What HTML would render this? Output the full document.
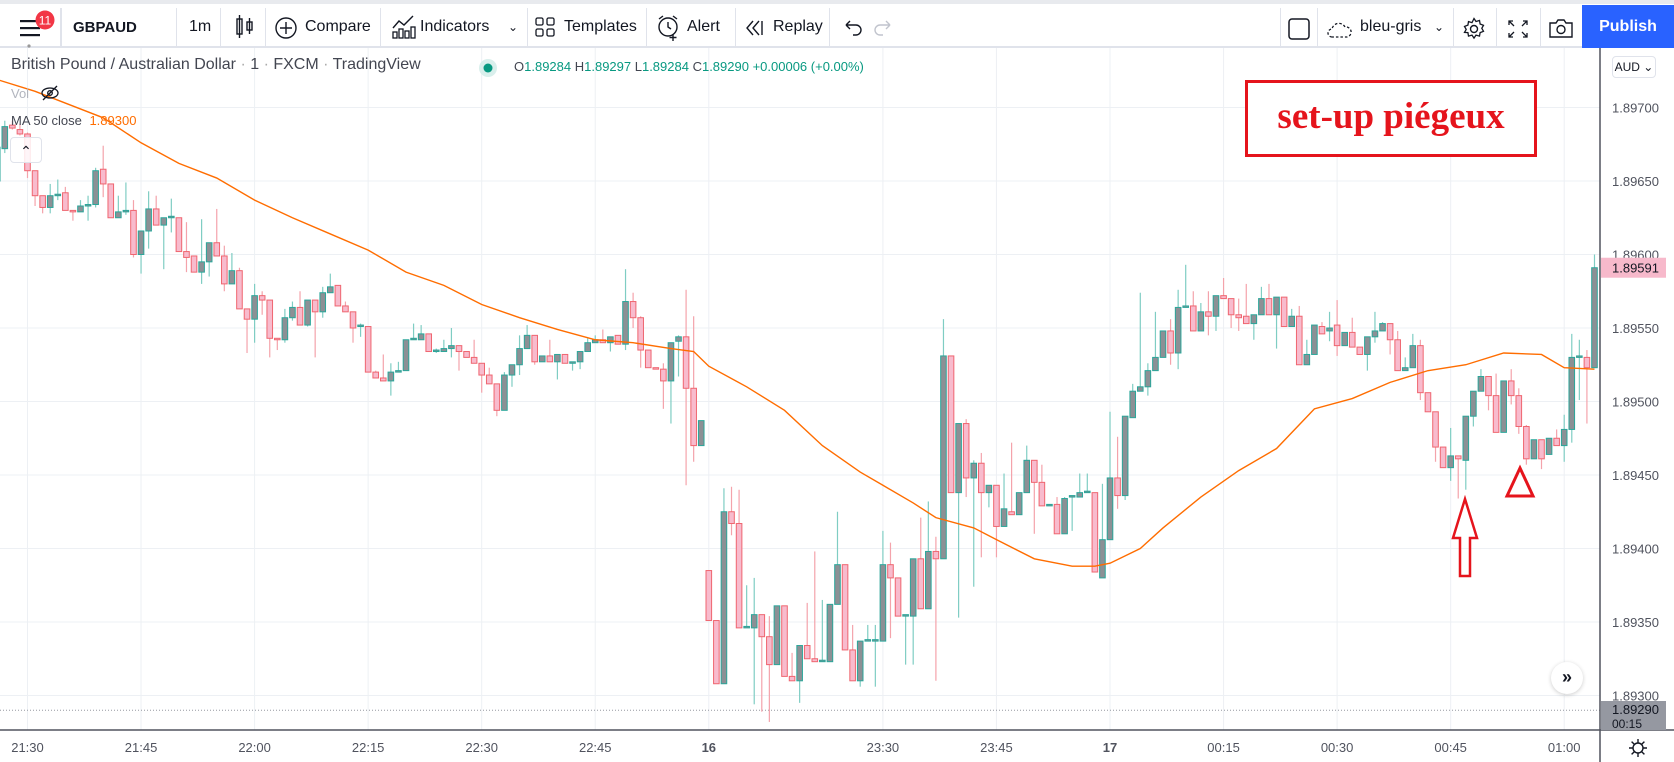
<!DOCTYPE html>
<html><head><meta charset="utf-8">
<style>
html,body{margin:0;padding:0;background:#fff;}
body{width:1674px;height:762px;overflow:hidden;position:relative;font-family:"Liberation Sans",sans-serif;color:#131722;}
.tb{position:absolute;left:0;top:0;width:1674px;height:48px;background:#fff;border-top:4px solid #e8eaee;box-sizing:border-box;border-bottom:2px solid #e0e3eb;}
.t{position:absolute;top:14px;font-size:16px;color:#131722;white-space:nowrap;}
.sep{position:absolute;top:4px;width:1px;height:40px;background:#e0e3eb;}
.ax{position:absolute;font-size:13px;color:#50535e;}
</style></head>
<body>
<div class="tb">
  <svg style="position:absolute;left:16px;top:6px" width="44" height="38">
    <rect x="4" y="10" width="20" height="2.2" fill="#131722"/><rect x="4" y="17" width="20" height="2.2" fill="#131722"/><rect x="4" y="24" width="20" height="2.2" fill="#131722"/>
    <circle cx="13" cy="36" r="1.6" fill="#999"/>
    <circle cx="29" cy="10" r="9.5" fill="#f23645"/><text x="29" y="14.5" font-size="12" fill="#fff" text-anchor="middle" font-family="Liberation Sans">11</text>
  </svg>
  <div class="sep" style="left:60px;width:2px"></div>
  <div class="t" style="left:73px;font-weight:bold;font-size:15px;top:15px">GBPAUD</div>
  <div class="sep" style="left:176px"></div>
  <div class="t" style="left:189px">1m</div>
  <div class="sep" style="left:220px"></div>
  <svg style="position:absolute;left:234px;top:10px" width="22" height="26"><rect x="3" y="5" width="5" height="15" fill="none" stroke="#131722" stroke-width="1.4"/><line x1="5.5" y1="1" x2="5.5" y2="24" stroke="#131722" stroke-width="1.4"/><rect x="13" y="8" width="5" height="8" fill="none" stroke="#131722" stroke-width="1.4"/><line x1="15.5" y1="4" x2="15.5" y2="20" stroke="#131722" stroke-width="1.4"/></svg>
  <div class="sep" style="left:265px"></div>
  <svg style="position:absolute;left:274px;top:12px" width="24" height="24"><circle cx="12" cy="12" r="10" fill="none" stroke="#131722" stroke-width="1.4"/><path d="M12 6v12M6 12h12" stroke="#131722" stroke-width="1.4"/></svg>
  <div class="t" style="left:305px">Compare</div>
  <div class="sep" style="left:380px"></div>
  <svg style="position:absolute;left:391px;top:10px" width="26" height="26"><path d="M2 14l6-7 5 4 9-9" fill="none" stroke="#131722" stroke-width="1.4"/><rect x="2" y="18" width="4" height="6" fill="none" stroke="#131722" stroke-width="1.3"/><rect x="8" y="15" width="4" height="9" fill="none" stroke="#131722" stroke-width="1.3"/><rect x="14" y="17" width="4" height="7" fill="none" stroke="#131722" stroke-width="1.3"/><rect x="20" y="13" width="4" height="11" fill="none" stroke="#131722" stroke-width="1.3"/></svg>
  <div class="t" style="left:420px">Indicators</div>
  <div class="t" style="left:508px;font-size:12px;top:16px">&#8964;</div>
  <div class="sep" style="left:527px"></div>
  <svg style="position:absolute;left:535px;top:13px" width="22" height="22"><rect x="1" y="1" width="7" height="7" rx="1.5" fill="none" stroke="#131722" stroke-width="1.3"/><rect x="12" y="1" width="7" height="7" rx="1.5" fill="none" stroke="#131722" stroke-width="1.3"/><rect x="1" y="12" width="7" height="7" rx="1.5" fill="none" stroke="#131722" stroke-width="1.3"/><rect x="12" y="12" width="7" height="7" rx="1.5" fill="none" stroke="#131722" stroke-width="1.3"/></svg>
  <div class="t" style="left:564px">Templates</div>
  <div class="sep" style="left:646px"></div>
  <svg style="position:absolute;left:656px;top:10px" width="26" height="28"><circle cx="12" cy="13" r="9" fill="none" stroke="#131722" stroke-width="1.4"/><path d="M12 8v5l3 2M3 5l4-3M21 5l-4-3" fill="none" stroke="#131722" stroke-width="1.4"/><path d="M17 20v7M13.5 23.5h7" stroke="#131722" stroke-width="1.4"/></svg>
  <div class="t" style="left:687px">Alert</div>
  <div class="sep" style="left:735px"></div>
  <svg style="position:absolute;left:745px;top:15px" width="22" height="18"><path d="M8 2L2 9l6 7M14 2L8 9l6 7M17 2v14" fill="none" stroke="#131722" stroke-width="1.4"/></svg>
  <div class="t" style="left:773px">Replay</div>
  <div class="sep" style="left:829px"></div>
  <svg style="position:absolute;left:842px;top:14px" width="52" height="20"><path d="M4 7h10a5 5 0 010 10h-3M4 7l4-4M4 7l4 4" fill="none" stroke="#131722" stroke-width="1.4"/><path d="M48 7H38a5 5 0 000 10h3M48 7l-4-4M48 7l-4 4" fill="none" stroke="#c1c4cd" stroke-width="1.4"/></svg>
  <div class="sep" style="left:1280px"></div>
  <svg style="position:absolute;left:1287px;top:13px" width="24" height="24"><rect x="2" y="2" width="20" height="20" rx="3" fill="none" stroke="#131722" stroke-width="1.5"/></svg>
  <div class="sep" style="left:1317px"></div>
  <svg style="position:absolute;left:1326px;top:14px" width="28" height="22"><path d="M6 19a4 4 0 010-8 7 7 0 0113-2 5 5 0 012 10z" fill="none" stroke="#131722" stroke-width="1.3" stroke-dasharray="2.5 2"/></svg>
  <div class="t" style="left:1360px">bleu-gris</div>
  <div class="t" style="left:1434px;font-size:12px;top:16px">&#8964;</div>
  <div class="sep" style="left:1453px"></div>
  <svg style="position:absolute;left:1462px;top:13px" width="24" height="24"><circle cx="12" cy="12" r="3.5" fill="none" stroke="#131722" stroke-width="1.4"/><path d="M12 1.5l2 3 3.5-1 .6 3.5 3.4 1.3-1.7 3 1.7 3-3.4 1.3-.6 3.5-3.5-1-2 3-2-3-3.5 1-.6-3.5L2.5 15.4l1.7-3-1.7-3 3.4-1.3.6-3.5 3.5 1z" fill="none" stroke="#131722" stroke-width="1.3"/></svg>
  <div class="sep" style="left:1496px"></div>
  <svg style="position:absolute;left:1507px;top:15px" width="22" height="20"><path d="M2 6V2h4M2 2l5 5M20 6V2h-4M20 2l-5 5M2 14v4h4M2 18l5-5M20 14v4h-4M20 18l-5-5" fill="none" stroke="#131722" stroke-width="1.3"/></svg>
  <div class="sep" style="left:1540px"></div>
  <svg style="position:absolute;left:1548px;top:13px" width="26" height="22"><path d="M2 6h6l2-3h6l2 3h6v14H2z" fill="none" stroke="#131722" stroke-width="1.4"/><circle cx="13" cy="12.5" r="4" fill="none" stroke="#131722" stroke-width="1.4"/></svg>
  <div style="position:absolute;left:1582px;top:1px;width:92px;height:43px;background:#2962ff;color:#fff;font-size:16px;font-weight:bold;line-height:43px;text-align:center">Publish</div>
</div>

<svg id="chart" style="position:absolute;left:0;top:48px" width="1674" height="714" viewBox="0 48 1674 714"></svg>

<div style="position:absolute;left:11px;top:56px;font-size:16px;color:#434651;white-space:nowrap">British Pound / Australian Dollar <span style="color:#aaa">·</span> 1 <span style="color:#aaa">·</span> FXCM <span style="color:#aaa">·</span> TradingView</div>
<svg style="position:absolute;left:478px;top:58px" width="20" height="20"><circle cx="10" cy="10" r="9" fill="#d9efec"/><circle cx="10" cy="10" r="4.5" fill="#089981"/></svg>
<div style="position:absolute;left:514px;top:59px;font-size:13px;color:#089981;white-space:nowrap"><span style="color:#434651">O</span>1.89284 <span style="color:#434651">H</span>1.89297 <span style="color:#434651">L</span>1.89284 <span style="color:#434651">C</span>1.89290 +0.00006 (+0.00%)</div>
<div style="position:absolute;left:11px;top:86px;font-size:13px;color:#b2b5be">Vol</div>
<svg style="position:absolute;left:40px;top:84px" width="20" height="18"><ellipse cx="10" cy="9" rx="8" ry="5" fill="none" stroke="#131722" stroke-width="1.3"/><circle cx="10" cy="9" r="2.3" fill="none" stroke="#131722" stroke-width="1.3"/><line x1="3" y1="16" x2="17" y2="2" stroke="#131722" stroke-width="1.3"/></svg>
<div style="position:absolute;left:11px;top:113px;font-size:13px;color:#434651;white-space:nowrap">MA 50 close <span style="color:#ff6d00;margin-left:4px">1.89300</span></div>
<div style="position:absolute;left:10px;top:137px;width:30px;height:24px;border:1px solid #e0e3eb;border-radius:4px;background:rgba(255,255,255,.85);text-align:center;font-size:14px;line-height:26px">&#8963;</div>

<div style="position:absolute;left:1245px;top:80px;width:286px;height:71px;border:3px solid #e5141c;background:#fff;text-align:center;font-family:'Liberation Serif',serif;font-weight:bold;font-size:37px;line-height:68px;color:#e5141c">set-up piégeux</div>

<div style="position:absolute;left:1612px;top:56px;width:42px;height:20px;border:1px solid #e0e3eb;border-radius:4px;font-size:12px;line-height:20px;text-align:center;color:#131722">AUD &#8964;</div>
<div style="position:absolute;left:1551px;top:662px;width:32px;height:32px;border-radius:16px;background:#fff;box-shadow:0 1px 4px rgba(0,0,0,.2);text-align:center;line-height:30px;font-size:18px;font-weight:bold;color:#131722">»</div>
<svg style="position:absolute;left:1627px;top:737px" width="22" height="22"><circle cx="11" cy="11" r="5" fill="none" stroke="#131722" stroke-width="1.4"/><path d="M11 2v4M11 16v4M2 11h4M16 11h4M4.6 4.6l2.8 2.8M14.6 14.6l2.8 2.8M4.6 17.4l2.8-2.8M14.6 7.4l2.8-2.8" stroke="#131722" stroke-width="1.4"/></svg>

<script>
// prices in points (1 point = 0.00001), candles start at index -4
const POINT = 0.00001;
const firstIndex = -4;
const openPts = [189650,189672,189688,189685,189682,189657,189640,189632,189640,189642,189630,189629,189633,189634,189658,189648,189625,189629,189630,189600,189616,189631,189620,189625,189625,189602,189599,189588,189595,189608,189599,189580,189589,189563,189556,189572,189569,189543,189542,189557,189564,189552,189569,189561,189574,189579,189565,189561,189551,189551,189520,189516,189514,189520,189521,189542,189542,189546,189534,189534,189536,189538,189534,189530,189526,189518,189512,189494,189518,189525,189536,189545,189527,189531,189527,189532,189526,189527,189534,189540,189542,189540,189545,189539,189568,189557,189535,189523,189522,189514,189541,189544,189509,189470,189385,189351,189308,189425,189417,189346,189346,189355,189340,189321,189361,189313,189310,189334,189325,189323,189323,189362,189389,189331,189310,189337,189337,189337,189389,189380,189354,189354,189393,189359,189398,189393,189531,189438,189485,189448,189458,189438,189443,189415,189425,189423,189438,189460,189445,189429,189430,189410,189435,189435,189438,189438,189380,189406,189448,189436,189489,189507,189510,189521,189530,189548,189533,189564,189565,189548,189561,189558,189572,189570,189559,189558,189553,189559,189570,189559,189571,189551,189558,189525,189532,189551,189548,189552,189538,189547,189537,189532,189544,189548,189553,189542,189521,189523,189538,189506,189493,189469,189455,189463,189460,189490,189507,189517,189504,189479,189514,189504,189483,189461,189474,189464,189475,189470,189481,189530,189530,189523];
const closePts = [189673,189687,189686,189682,189657,189640,189632,189640,189641,189630,189629,189633,189634,189657,189648,189625,189629,189630,189600,189616,189631,189620,189625,189626,189602,189598,189588,189595,189608,189599,189580,189589,189563,189556,189572,189569,189543,189542,189557,189564,189552,189569,189561,189574,189578,189565,189561,189550,189552,189520,189516,189514,189520,189521,189542,189543,189546,189534,189535,189536,189538,189534,189530,189526,189518,189512,189494,189518,189525,189536,189545,189527,189531,189527,189532,189526,189527,189534,189540,189542,189540,189544,189539,189568,189557,189535,189523,189522,189514,189540,189544,189509,189470,189487,189351,189308,189425,189417,189346,189347,189355,189340,189321,189361,189313,189310,189334,189325,189323,189324,189362,189389,189331,189310,189337,189338,189338,189389,189380,189354,189355,189393,189359,189398,189393,189531,189438,189485,189448,189458,189438,189443,189415,189427,189423,189438,189460,189445,189429,189430,189410,189434,189436,189438,189439,189384,189406,189448,189436,189490,189507,189510,189521,189530,189548,189533,189564,189565,189548,189561,189558,189572,189570,189559,189557,189553,189559,189570,189559,189571,189551,189558,189525,189532,189552,189546,189550,189538,189547,189537,189532,189544,189548,189553,189542,189521,189523,189538,189506,189493,189469,189455,189463,189461,189490,189507,189517,189504,189479,189514,189504,189483,189461,189474,189461,189475,189470,189481,189530,189531,189523,189591];
const highPts = [189678,189691,189691,189689,189683,189657,189640,189648,189651,189646,189630,189637,189640,189659,189674,189648,189640,189649,189637,189616,189643,189640,189625,189638,189625,189622,189599,189624,189608,189631,189606,189601,189591,189563,189580,189575,189569,189543,189563,189568,189575,189569,189569,189578,189587,189579,189568,189561,189553,189551,189521,189532,189526,189527,189542,189553,189552,189546,189536,189542,189550,189538,189534,189542,189526,189523,189512,189520,189525,189545,189552,189545,189531,189542,189532,189532,189527,189534,189543,189545,189549,189544,189545,189590,189574,189558,189535,189523,189526,189540,189545,189576,189558,189487,189385,189351,189441,189442,189440,189375,189380,189355,189354,189361,189361,189329,189334,189363,189398,189365,189362,189425,189389,189348,189337,189348,189348,189412,189404,189380,189355,189393,189421,189432,189408,189556,189531,189485,189488,189460,189465,189443,189443,189451,189472,189438,189470,189460,189457,189430,189435,189435,189436,189451,189451,189438,189444,189493,189476,189490,189512,189574,189526,189561,189548,189556,189576,189593,189575,189567,189575,189572,189584,189570,189570,189580,189559,189578,189580,189571,189571,189563,189565,189542,189552,189554,189561,189569,189547,189557,189537,189544,189561,189554,189553,189548,189530,189546,189542,189506,189493,189469,189482,189463,189490,189507,189522,189517,189519,189514,189522,189509,189484,189474,189474,189475,189481,189491,189546,189542,189535,189600];
const lowPts = [189635,189669,189685,189681,189652,189633,189628,189628,189637,189630,189623,189629,189623,189632,189639,189625,189625,189627,189598,189587,189604,189620,189590,189615,189602,189588,189588,189580,189585,189599,189575,189580,189563,189533,189540,189559,189530,189535,189540,189555,189552,189551,189530,189557,189574,189565,189561,189540,189544,189520,189516,189514,189504,189520,189521,189542,189542,189534,189533,189534,189530,189521,189530,189526,189506,189512,189490,189494,189510,189518,189536,189525,189527,189527,189515,189526,189521,189522,189534,189540,189540,189534,189539,189535,189550,189523,189523,189522,189495,189485,189517,189443,189459,189470,189351,189308,189308,189409,189346,189346,189294,189289,189282,189321,189313,189310,189295,189325,189323,189323,189323,189362,189331,189310,189306,189337,189306,189337,189339,189354,189321,189321,189359,189359,189310,189393,189438,189353,189435,189374,189394,189428,189394,189415,189423,189423,189438,189410,189429,189429,189410,189410,189412,189435,189438,189384,189380,189406,189427,189433,189489,189507,189504,189521,189530,189525,189522,189564,189548,189548,189545,189548,189570,189550,189548,189553,189542,189559,189559,189536,189551,189551,189525,189525,189532,189546,189541,189531,189538,189537,189532,189521,189540,189548,189532,189521,189521,189523,189501,189493,189459,189455,189446,189434,189440,189483,189507,189494,189479,189479,189498,189478,189457,189461,189454,189464,189470,189459,189472,189501,189485,189523];
// MA 50 close sampled at candle indices
const maIndex = [-4,1,10,15,20,25,30,35,40,45,50,55,60,65,70,75,80,85,88,90,95,100,105,110,113,117,120,125,128,133,138,141,143,147,150,155,160,165,170,175,180,185,190,195,200,203,207];
const maPts = [189719,189711,189693,189676,189662,189652,189637,189625,189614,189603,189588,189579,189566,189557,189549,189542,189540,189536,189534,189524,189510,189494,189470,189452,189443,189431,189421,189414,189406,189393,189388,189388,189390,189400,189414,189435,189453,189468,189495,189502,189513,189521,189525,189533,189532,189523,189522];
const priceTicks = ["1.89700","1.89650","1.89600","1.89550","1.89500","1.89450","1.89400","1.89350","1.89300"];
const timeLabels = ["21:30","21:45","22:00","22:15","22:30","22:45","16","23:30","23:45","17","00:15","00:30","00:45","01:00"];
const timeLabelIndex = [0,15,30,45,60,75,90,113,128,143,158,173,188,203];
const lastPrice = "1.89591";
const currentPrice = 1.89290;

const NS = "http://www.w3.org/2000/svg";
const svg = document.getElementById("chart");
const plotRight = 1600, plotBottom = 730;
function yOf(p){ return 107.5 + (1.897 - p) * 147000; }
function xOf(i){ return 27.5 + i * 7.57; }
function mk(tag, attrs, parent){ const e = document.createElementNS(NS, tag); for (const k in attrs) e.setAttribute(k, attrs[k]); (parent||svg).appendChild(e); return e; }

const clip = mk("clipPath", {id:"plotclip"}); mk("rect", {x:0,y:48,width:plotRight,height:plotBottom-48}, clip);
const grid = mk("g", {});


priceTicks.forEach(t => {
  const y = yOf(parseFloat(t));
  const l = mk("line", {x1:0,x2:plotRight,y1:y,y2:y,stroke:"#edf0f4","stroke-width":1}, grid);
  
  
  const tx = mk("text", {x:1612,y:y+5,"font-size":13,fill:"#50535e","font-family":"Liberation Sans"});
  tx.textContent = t;
  
  
});
timeLabels.forEach((t, k) => {
  const x = xOf(timeLabelIndex[k]);
  const l = mk("line", {x1:x,x2:x,y1:48,y2:plotBottom,stroke:"#edf0f4","stroke-width":1}, grid);
  
  
  const tx = mk("text", {x:x,y:752,"font-size":13,fill:"#50535e","text-anchor":"middle","font-family":"Liberation Sans","font-weight":(t.length<3?"bold":"normal")});
  tx.textContent = t;
  
  
});

const cur = mk("line", {x1:0,x2:plotRight,y1:yOf(currentPrice),y2:yOf(currentPrice),stroke:"#9598a1","stroke-width":1,"stroke-dasharray":"1 2"});



const cg = mk("g", {"clip-path":"url(#plotclip)"});


for (let k = 0; k < openPts.length; k++) {
  const i = k + firstIndex;
  const o = openPts[k]*POINT, c = closePts[k]*POINT, h = highPts[k]*POINT, l = lowPts[k]*POINT;
  const up = c >= o;
  const x = xOf(i);
  const g = mk("g", {}, cg);
  
  
  mk("line", {x1:x,x2:x,y1:yOf(h),y2:yOf(l),stroke:up?"#7fcdc3":"#f4a3ab","stroke-width":1.2}, g);
  const yt = yOf(Math.max(o,c)), yb = yOf(Math.min(o,c));
  mk("rect", {x:x-2.8,y:yt,width:5.6,height:Math.max(1,yb-yt),fill:up?"#8c9095":"#f8bbcd",stroke:up?"#2ba69a":"#ef6670","stroke-width":1}, g);
}

const maLine = mk("polyline", {points:maIndex.map((i,k)=>xOf(i)+","+yOf(maPts[k]*POINT)).join(" "),fill:"none",stroke:"#ff6d00","stroke-width":1.4,"clip-path":"url(#plotclip)"});



const ra = mk("line", {x1:plotRight,x2:plotRight,y1:48,y2:762,stroke:"#50535e","stroke-width":1.5});


const ba = mk("line", {x1:0,x2:1674,y1:plotBottom,y2:plotBottom,stroke:"#50535e","stroke-width":1.5});



const lastY = yOf(parseFloat(lastPrice));
const lb = mk("rect", {x:1601,y:lastY-10,width:65,height:20,fill:"#f7b9cb"});


const lt = mk("text", {x:1612,y:lastY+5,"font-size":13,fill:"#131722","font-family":"Liberation Sans"}); lt.textContent = lastPrice;
const cb = mk("rect", {x:1601,y:701,width:65,height:29,fill:"#9598a1"});


const ct = mk("text", {x:1612,y:714,"font-size":13,fill:"#131722","font-family":"Liberation Sans"}); ct.textContent = currentPrice.toFixed(5);
const ct2 = mk("text", {x:1612,y:728,"font-size":12,fill:"#131722","font-family":"Liberation Sans"}); ct2.textContent = "00:15";

const arrow = mk("path", {d:"M1465 499 L1477 538 L1470 538 L1470 576 L1460 576 L1460 538 L1453 538 Z",fill:"none",stroke:"#e5141c","stroke-width":2.5});


const tri = mk("path", {d:"M1520 468 L1533 496 L1507 496 Z",fill:"none",stroke:"#e5141c","stroke-width":3});


</script>
</body></html>
